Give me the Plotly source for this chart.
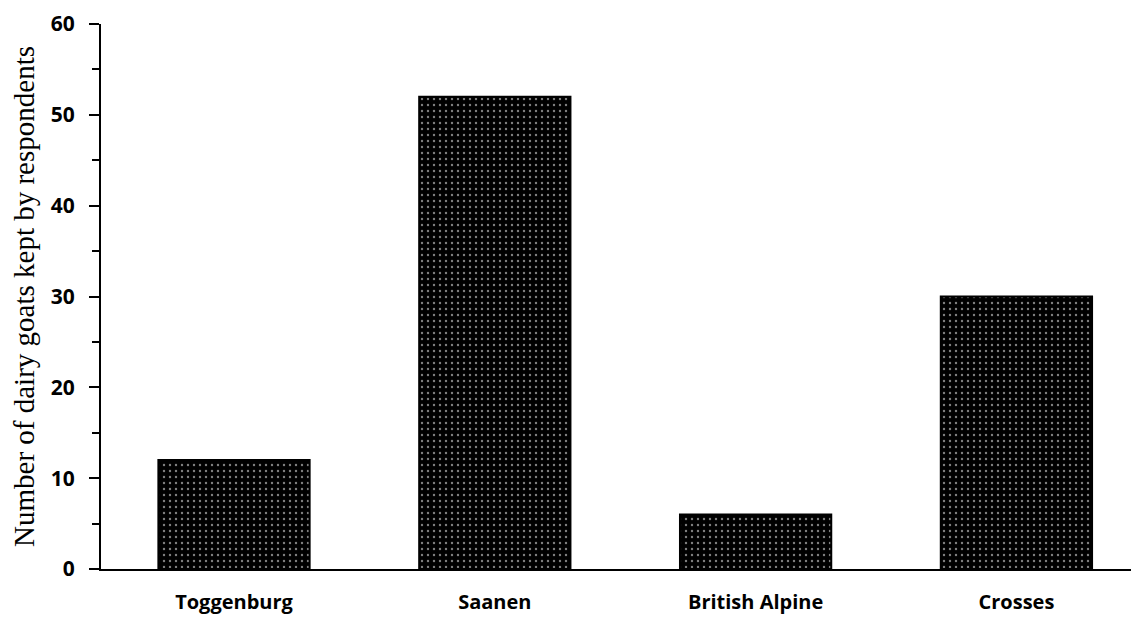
import plotly.graph_objects as go

categories = ["Toggenburg", "Saanen", "British Alpine", "Crosses"]
goat_counts = [12, 52, 6, 30]
y_tick_values = [0, 10, 20, 30, 40, 50, 60]
y_title = "Number of dairy goats kept by respondents"

fig = go.Figure()
fig.add_trace(go.Bar(
    x=categories,
    y=goat_counts,
    marker=dict(
        color="black",
        line=dict(color="black", width=2),
        pattern=dict(shape=".", fgcolor="white", bgcolor="black", size=6, solidity=0.12),
    ),
    width=0.58,
))

# the page body has an 8px default margin, so the figure is sized/margined to compensate
fig.update_layout(
    width=1131, height=609,
    margin=dict(l=93, r=0, t=16, b=48),
    paper_bgcolor="white", plot_bgcolor="white",
    showlegend=False,
    font=dict(family="Open Sans", color="black"),
)
fig.update_xaxes(
    range=[-0.51, 3.47], automargin=False,
    showline=True, linecolor="black", linewidth=2,
    ticks="", showgrid=False, zeroline=False,
    tickfont=dict(family="Open Sans", size=20, weight="bold", color="black"),
    ticklabelstandoff=14,
)
fig.update_yaxes(
    range=[0, 60], tickvals=y_tick_values, automargin=False,
    showline=True, linecolor="black", linewidth=2,
    ticks="outside", ticklen=10, tickwidth=2, tickcolor="black",
    minor=dict(dtick=5, ticks="outside", ticklen=7, tickwidth=1.5, tickcolor="black"),
    showgrid=False, zeroline=False,
    tickfont=dict(family="Open Sans", size=21, weight="bold", color="black"),
    ticklabelstandoff=10,
    title=dict(text=y_title, font=dict(family="Liberation Serif", size=29, color="black"), standoff=10),
)

fig.write_html("out.html")
